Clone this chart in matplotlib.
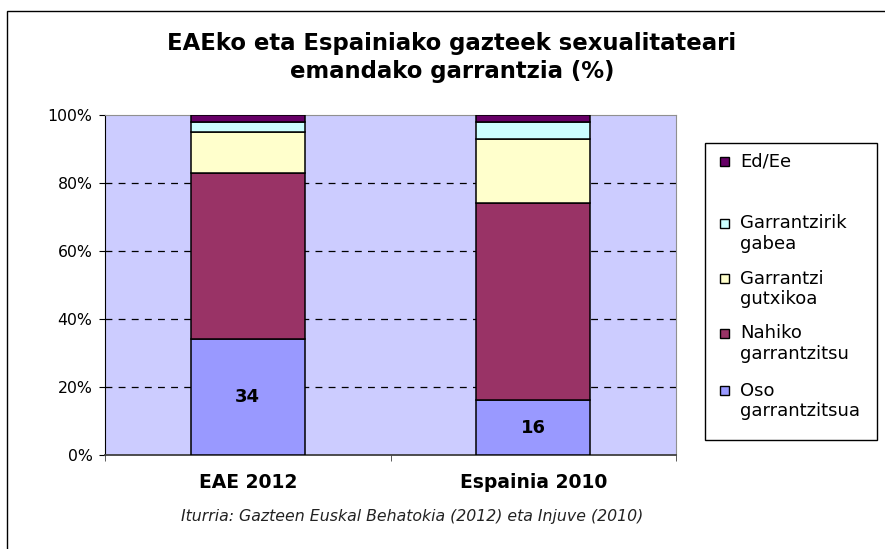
import matplotlib
matplotlib.use("Agg")
import matplotlib.pyplot as plt
from matplotlib.patches import Rectangle
from matplotlib.ticker import FuncFormatter
import numpy as np

# datuak (%)
categories = ["EAE 2012", "Espainia 2010"]
series = ["Oso\ngarrantzitsua", "Nahiko\ngarrantzitsu", "Garrantzi\ngutxikoa",
          "Garrantzirik\ngabea", "Ed/Ee"]
oso = [34, 16]
nahiko = [49, 58]
gutxi = [12, 19]
gabea = [3, 5]
eded = [2, 2]
values = [oso, nahiko, gutxi, gabea, eded]
colors = ["#9999FF", "#993366", "#FFFFCC", "#CCFFFF", "#660066"]

W, H = 885, 549
fig = plt.figure(figsize=(W / 100, H / 100), dpi=100)
fig.patch.set_facecolor("white")

ax = fig.add_axes([105 / W, 1 - 454.7 / H, (676 - 105) / W, (454.7 - 115) / H])
ax.set_facecolor("#CCCCFF")

x = np.arange(len(categories))
bottom = np.zeros(len(categories))
for vals, col in zip(values, colors):
    ax.bar(x, vals, 0.4, bottom=bottom, color=col, edgecolor="black", lw=1.1, zorder=3)
    bottom += np.array(vals)

# etiketak "Oso garrantzitsua" segmentuan
for xi, v in zip(x, oso):
    ax.text(xi, v / 2, f"{v}", ha="center", va="center", fontsize=13,
            fontweight="bold", zorder=4)

ax.set_xlim(-0.5, 1.5)
ax.set_ylim(0, 100)
ax.set_yticks([0, 20, 40, 60, 80, 100])
ax.yaxis.set_major_formatter(FuncFormatter(lambda v, p: f"{v:.0f}%"))
ax.set_xticks(x)
ax.set_xticklabels(categories, fontsize=13.5, fontweight="bold")
ax.set_xticks([-0.5, 0.5, 1.5], minor=True)
ax.tick_params(axis="x", which="major", length=0, pad=13)
ax.tick_params(axis="x", which="minor", length=4, direction="out", color="#404040")
ax.tick_params(axis="y", length=4, direction="out", pad=5, labelsize=11.3)
for gy in [20, 40, 60, 80]:
    ax.axhline(gy, color="black", lw=0.9, ls=(0, (5.5, 5)), zorder=1)

ax.spines["left"].set_color("black")
ax.spines["bottom"].set_color("#404040")
ax.spines["bottom"].set_linewidth(1.3)
ax.spines["top"].set_color("#909090")
ax.spines["right"].set_color("#909090")

# izenburua
fig.text(452 / W, 1 - 57.5 / H,
         "EAEko eta Espainiako gazteek sexualitateari\nemandako garrantzia (%)",
         ha="center", va="center", fontsize=16.4, fontweight="bold", linespacing=1.25)

# iturria
fig.text(412.5 / W, 1 - 517 / H,
         "Iturria: Gazteen Euskal Behatokia (2012) eta Injuve (2010)",
         ha="center", va="center", fontsize=11.3, style="italic", color="#222222")

# kanpoko markoa
fig.patches.append(Rectangle((7 / W, -0.02), 1.05, 1 - 11 / H + 0.02,
                             transform=fig.transFigure, fill=False,
                             edgecolor="black", lw=1.0))

# legenda (eskuz)
fig.patches.append(Rectangle((705 / W, 1 - 440 / H), (877 - 705) / W, (440 - 143) / H,
                             transform=fig.transFigure, facecolor="white",
                             edgecolor="black", lw=1.0))
leg_y = [161, 223, 278, 333, 390]  # lehen lerroaren erdigunea (px)
order = list(range(len(series)))[::-1]
for yy, i in zip(leg_y, order):
    fig.patches.append(Rectangle((720 / W, 1 - (yy + 4.5) / H), 9 / W, 9 / H,
                                 transform=fig.transFigure, facecolor=colors[i],
                                 edgecolor="black", lw=1.0))
    fig.text(740 / W, 1 - (yy - 8.5) / H, series[i], ha="left", va="top",
             fontsize=13, linespacing=1.2)

fig.savefig("out.png", dpi=100)
